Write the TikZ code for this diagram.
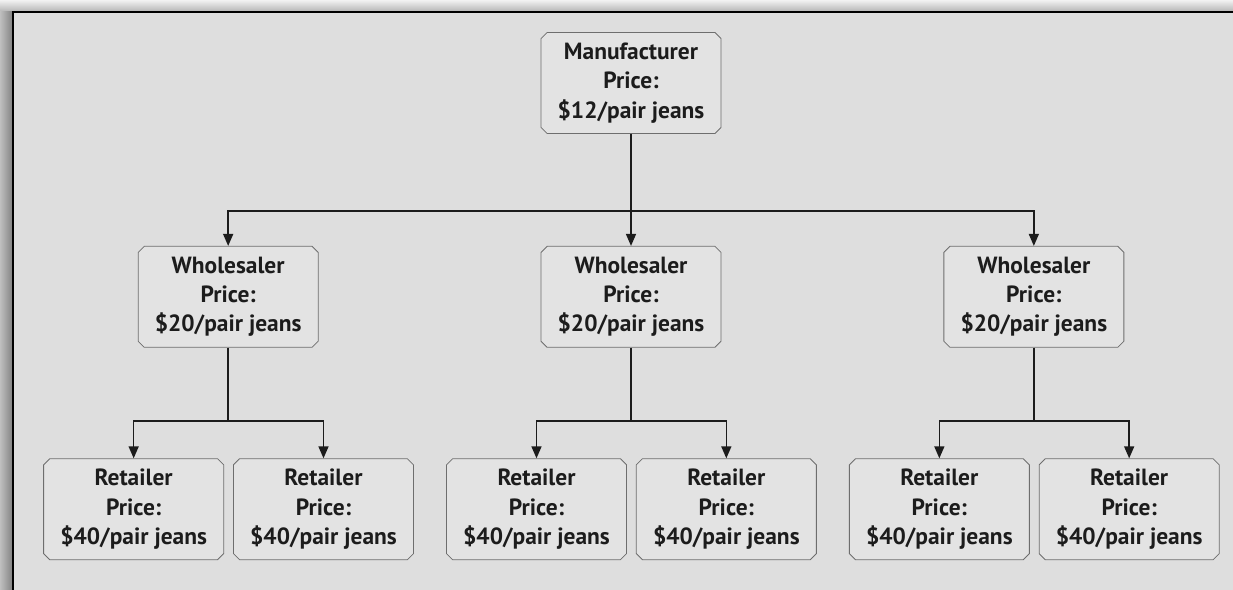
\documentclass[tikz,border=0pt]{standalone}
\usepackage{fontspec}
\setmainfont{PT Sans}
\usetikzlibrary{arrows.meta,positioning,calc,shapes.misc}

\definecolor{paper}{HTML}{DEDEDE}
\definecolor{boxfill}{HTML}{E3E3E3}
\definecolor{boxline}{HTML}{6E6E6E}
\definecolor{ink}{HTML}{1C1C1C}

\begin{document}
\begin{tikzpicture}[
  x=0.03cm, y=0.03cm,
  level/.style={draw=boxline, line width=0.7pt, fill=boxfill, chamfered rectangle, chamfered rectangle xsep=2.6pt, chamfered rectangle ysep=2.6pt,
    align=center, minimum width=5.4cm, minimum height=3.03cm, inner sep=0pt, text=ink, font=\fontsize{20}{25}\selectfont\bfseries},
  wire/.style={draw=ink, line width=1.3pt},
  arr/.style={wire, -{Triangle[length=0.36cm, width=0.3cm]}}
]
\useasboundingbox (0,0) rectangle (1233,-590);

% page, shadow and frame
\fill[paper] (13,-12) rectangle (1233,-590);
\shade[top color=white!95!black, bottom color=black!30] (0,0) rectangle (1233,-12);
\shade[left color=black!25, right color=black!50] (0,-12) rectangle (13,-590);
\draw[black, line width=1.8pt] (1233,-12) -- (13,-12) -- (13,-590);

\node[level] (man) at (631,-83) {Manufacturer\\Price:\\\$12/pair jeans};

\node[level, below=3.36cm of man] (w2) {Wholesaler\\Price:\\\$20/pair jeans};
\node[level, left=6.66cm of w2] (w1) {Wholesaler\\Price:\\\$20/pair jeans};
\node[level, right=6.66cm of w2] (w3) {Wholesaler\\Price:\\\$20/pair jeans};

\node[level] (r1) at ($(w1.south)+(-94.5,-161.5)$) {Retailer\\Price:\\\$40/pair jeans};
\node[level, right=0.27cm of r1] (r2) {Retailer\\Price:\\\$40/pair jeans};
\node[level] (r3) at ($(w2.south)+(-94.5,-161.5)$) {Retailer\\Price:\\\$40/pair jeans};
\node[level, right=0.27cm of r3] (r4) {Retailer\\Price:\\\$40/pair jeans};
\node[level] (r5) at ($(w3.south)+(-94.5,-161.5)$) {Retailer\\Price:\\\$40/pair jeans};
\node[level, right=0.27cm of r5] (r6) {Retailer\\Price:\\\$40/pair jeans};

\coordinate (b0) at ($(man.south)+(0,-77)$);
\coordinate (b1) at ($(w1.south)+(0,-73)$);
\coordinate (b2) at ($(w2.south)+(0,-73)$);
\coordinate (b3) at ($(w3.south)+(0,-73)$);

\draw[arr] (man.south) -- (w2.north);
\draw[arr] (b0) -| (w1.north);
\draw[arr] (b0) -| (w3.north);

\draw[wire] (w1.south) -- (b1);
\draw[arr] (b1) -| (r1.north);
\draw[arr] (b1) -| (r2.north);

\draw[wire] (w2.south) -- (b2);
\draw[arr] (b2) -| (r3.north);
\draw[arr] (b2) -| (r4.north);

\draw[wire] (w3.south) -- (b3);
\draw[arr] (b3) -| (r5.north);
\draw[arr] (b3) -| (r6.north);

\end{tikzpicture}
\end{document}
